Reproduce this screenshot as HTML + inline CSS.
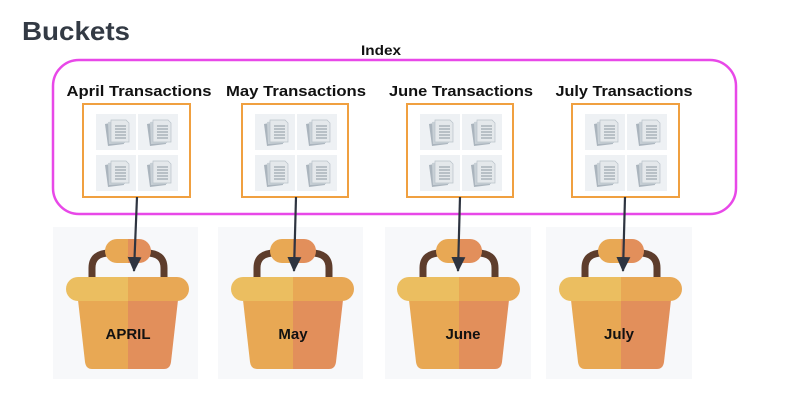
<!DOCTYPE html>
<html><head><meta charset="utf-8"><style>
html,body{margin:0;padding:0;background:#fff;}
svg{display:block;font-family:"Liberation Sans",sans-serif;}
</style></head><body>
<svg width="792" height="419" viewBox="0 0 792 419" xmlns="http://www.w3.org/2000/svg">
<defs>
<g id="doc">
  <rect x="0" y="0" width="40" height="36" fill="#eef1f4"/>
  <path d="M9 10 L25 7 L28 30 L12 32 Z" fill="#aab4bd"/>
  <path d="M12 8 L28 6 L29 29 L13 30 Z" fill="#c8d0d6"/>
  <path d="M15 6 L30 6 L33 9 L33 28 L15 28 Z" fill="#e4e8eb" stroke="#b9c2c9" stroke-width="0.7"/>
  <g stroke="#8d98a2" stroke-width="1"><line x1="19" y1="12" x2="30" y2="12"/><line x1="19" y1="15" x2="30" y2="15"/><line x1="19" y1="18" x2="30" y2="18"/><line x1="19" y1="21" x2="30" y2="21"/><line x1="19" y1="24" x2="30" y2="24"/></g>
</g>
<g id="docs">
  <use href="#doc" x="12" y="10"/><use href="#doc" x="54" y="10"/>
  <use href="#doc" x="12" y="51"/><use href="#doc" x="54" y="51"/>
</g>
<g id="bucket">
  <path d="M -36 282 V 268 Q -36 253 -18 253 H 18 Q 36 253 36 268 V 282" fill="none" stroke="#5e3d2c" stroke-width="7"/>
  <path d="M -50 300 L 0 300 L 0 369 L -36 369 Q -42 369 -43 362 Z" fill="#e8a854"/>
  <path d="M 0 300 L 50 300 L 43 362 Q 42 369 36 369 L 0 369 Z" fill="#e28f5b"/>
  <path d="M 0 277 L -50 277 A 12 12 0 0 0 -50 301 L 0 301 Z" fill="#ebbe60"/>
  <path d="M 0 277 L 49 277 A 12 12 0 0 1 49 301 L 0 301 Z" fill="#e8a855"/>
  <path d="M 0 239 L -11 239 A 12 12 0 0 0 -11 263 L 0 263 Z" fill="#e8a854"/>
  <path d="M 0 239 L 11 239 A 12 12 0 0 1 11 263 L 0 263 Z" fill="#e28f5b"/>
</g>
<marker id="ah" markerWidth="16" markerHeight="14" refX="14" refY="7" orient="auto" markerUnits="userSpaceOnUse">
  <path d="M0 0 L15 7 L0 14 Z" fill="#2e3440"/>
</marker>
</defs>

<text x="22" y="40" font-size="26" font-weight="bold" fill="#333a44" textLength="108" lengthAdjust="spacingAndGlyphs">Buckets</text>
<text x="381" y="55" font-size="14" font-weight="bold" text-anchor="middle" fill="#111" textLength="40" lengthAdjust="spacingAndGlyphs">Index</text>

<rect x="53" y="60" width="683" height="154" rx="26" fill="none" stroke="#e848e8" stroke-width="2.5"/>

<g font-size="15" font-weight="bold" fill="#111" text-anchor="middle" lengthAdjust="spacingAndGlyphs">
<text x="139" y="96" textLength="145" lengthAdjust="spacingAndGlyphs">April Transactions</text>
<text x="296" y="96" textLength="140" lengthAdjust="spacingAndGlyphs">May Transactions</text>
<text x="461" y="96" textLength="144" lengthAdjust="spacingAndGlyphs">June Transactions</text>
<text x="624" y="96" textLength="137" lengthAdjust="spacingAndGlyphs">July Transactions</text>
</g>

<g fill="#fff" stroke="#f0a040" stroke-width="2">
<rect x="83" y="104" width="107" height="93"/>
<rect x="242" y="104" width="106" height="93"/>
<rect x="407" y="104" width="106" height="93"/>
<rect x="572" y="104" width="107" height="93"/>
</g>
<use href="#docs" x="84" y="104"/>
<use href="#docs" x="243" y="104"/>
<use href="#docs" x="408" y="104"/>
<use href="#docs" x="573" y="104"/>

<g fill="#f7f8fa">
<rect x="53" y="227" width="145" height="152"/>
<rect x="218" y="227" width="145" height="152"/>
<rect x="385" y="227" width="146" height="152"/>
<rect x="546" y="227" width="146" height="152"/>
</g>
<use href="#bucket" x="128" y="0"/>
<use href="#bucket" x="293" y="0"/>
<use href="#bucket" x="459" y="0"/>
<use href="#bucket" x="621" y="0"/>

<g font-size="15" font-weight="bold" fill="#111" text-anchor="middle">
<text x="128" y="339">APRIL</text>
<text x="293" y="339">May</text>
<text x="463" y="339">June</text>
<text x="619" y="339">July</text>
</g>

<g stroke="#2e3440" stroke-width="2.2" marker-end="url(#ah)">
<line x1="137" y1="197" x2="134" y2="271"/>
<line x1="296" y1="197" x2="294" y2="271"/>
<line x1="460" y1="197" x2="458" y2="271"/>
<line x1="625" y1="197" x2="623" y2="271"/>
</g>
</svg>
</body></html>
